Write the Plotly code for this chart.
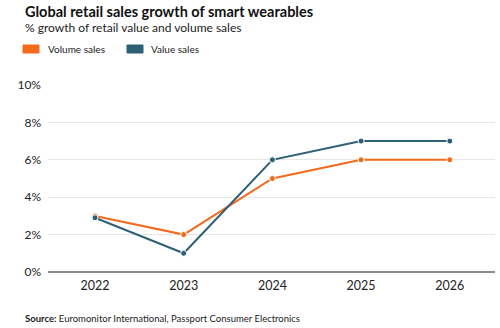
import plotly.graph_objects as go

years = [2022, 2023, 2024, 2025, 2026]
volume_sales = [3.0, 2.0, 5.0, 6.0, 6.0]
value_sales = [2.9, 1.0, 6.0, 7.0, 7.0]
y_ticks = [0, 2, 4, 6, 8, 10]
y_tick_labels = [f"{v}%" for v in y_ticks]

ORANGE = "#F26A1B"
TEAL = "#2D5F75"
FONT = "Lato, Open Sans, sans-serif"

W, H = 500, 328
L, R, T, B = 48, 5, 85, 56


def px_x(px):
    """Pixel x in the page -> paper coordinate."""
    return (px - L) / (W - L - R)


def px_y(py):
    """Pixel y from the top of the page -> paper coordinate."""
    return (H - B - py) / (H - T - B)


fig = go.Figure()
series = [("Volume sales", volume_sales, ORANGE), ("Value sales", value_sales, TEAL)]
for name, vals, color in series:
    fig.add_trace(go.Scatter(
        x=years, y=vals, name=name, mode="lines+markers",
        line=dict(color=color, width=2),
        marker=dict(size=6, color=color, line=dict(color="white", width=1)),
        showlegend=False, cliponaxis=False,
    ))

# Legend: colour swatches with labels above the plot
legend_items = [(23, 46, "Volume sales", ORANGE), (127, 149, "Value sales", TEAL)]
for x0, tx, label, color in legend_items:
    x1, y0, y1 = x0 + 16, 45, 53
    fig.add_shape(type="rect", xref="paper", yref="paper",
                  x0=px_x(x0), x1=px_x(x1), y0=px_y(y1), y1=px_y(y0),
                  fillcolor=color, line=dict(color=color, width=1))
    fig.add_annotation(text=label, x=px_x(tx), y=px_y(49), xref="paper", yref="paper",
                       xanchor="left", yanchor="middle", showarrow=False,
                       font=dict(family=FONT, size=10, color="#222"))

fig.add_annotation(text="<b>Global retail sales growth of smart wearables</b>",
                   x=px_x(23), y=px_y(11), xref="paper", yref="paper",
                   xanchor="left", yanchor="middle", showarrow=False,
                   font=dict(family=FONT, size=14.5, color="#111"))
fig.add_annotation(text="% growth of retail value and volume sales",
                   x=px_x(23), y=px_y(27.5), xref="paper", yref="paper",
                   xanchor="left", yanchor="middle", showarrow=False,
                   font=dict(family=FONT, size=12, color="#222"))
fig.add_annotation(text="<b>Source:</b> Euromonitor International, Passport Consumer Electronics",
                   x=px_x(23), y=px_y(318), xref="paper", yref="paper",
                   xanchor="left", yanchor="middle", showarrow=False,
                   font=dict(family=FONT, size=9.5, color="#222"))

fig.update_layout(
    width=W, height=H,
    margin=dict(l=L, r=R, t=T, b=B),
    paper_bgcolor="white", plot_bgcolor="white",
    font=dict(family=FONT, color="#222"),
    xaxis=dict(
        range=[2021.47, 2026.51], tickvals=years, ticktext=[str(y) for y in years],
        showgrid=False, zeroline=False, showline=False, ticks="",
        tickfont=dict(size=12.5, color="#222"), ticklabelstandoff=4,
    ),
    yaxis=dict(
        range=[0, 10], tickvals=y_ticks, ticktext=y_tick_labels,
        showgrid=True, gridcolor="#E6E6E6", gridwidth=1,
        zeroline=True, zerolinecolor="#8C8C8C", zerolinewidth=1.5,
        showline=False, ticks="", ticklabelstandoff=6,
        tickfont=dict(size=12, color="#222"),
    ),
)

fig.write_html("out.html")
